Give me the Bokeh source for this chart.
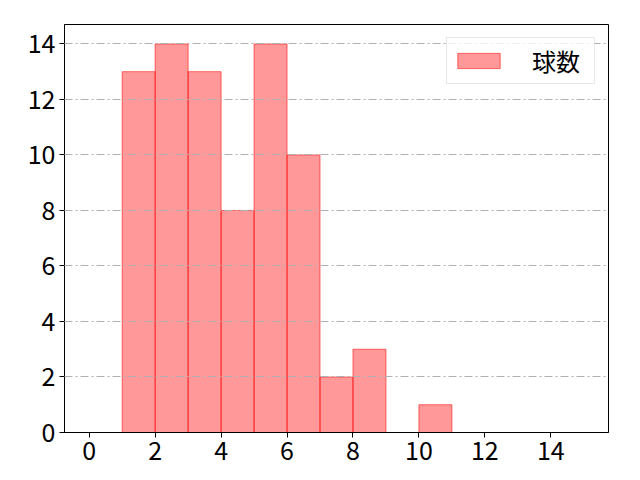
from bokeh.plotting import figure
from bokeh.embed import file_html
from bokeh.resources import INLINE
from bokeh.models import FixedTicker, Range1d, Legend, LegendItem, ColumnDataSource

bin_left = [0, 1, 2, 3, 4, 5, 6, 7, 8, 9, 10, 11, 12, 13, 14]
counts = [0, 13, 14, 13, 8, 14, 10, 2, 3, 0, 1, 0, 0, 0, 0]
bin_width = 1
series_name = "球数"
x_ticks = [0, 2, 4, 6, 8, 10, 12, 14]
y_ticks = [0, 2, 4, 6, 8, 10, 12, 14]

FONT = "Noto Sans CJK JP"

src = ColumnDataSource(dict(
    left=bin_left,
    right=[b + bin_width for b in bin_left],
    top=counts,
    bottom=[0] * len(counts),
))

p = figure(
    frame_width=544, frame_height=408,
    min_border_left=64, min_border_top=24, min_border_right=8, min_border_bottom=40,
    x_range=Range1d(-0.75, 15.75), y_range=Range1d(0, 14.7),
    output_backend="svg", toolbar_location=None,
)
p.background_fill_color = "white"
p.border_fill_color = "white"
p.outline_line_color = "black"
p.outline_line_width = 1

r = p.quad(left="left", right="right", top="top", bottom="bottom", source=src,
           fill_color="red", fill_alpha=0.4, line_color="red", line_alpha=0.55, line_width=1)

p.xgrid.visible = False
p.ygrid.grid_line_color = "#b0b0b0"
p.ygrid.grid_line_dash = "8 3 2 3"
p.ygrid.grid_line_width = 1
p.ygrid.level = "overlay"

for ax in (p.xaxis, p.yaxis):
    ax.axis_line_color = "black"
    ax.major_tick_line_color = "black"
    ax.minor_tick_line_color = None
    ax.major_tick_out = 5
    ax.major_tick_in = 0
    ax.major_label_text_font = FONT
    ax.major_label_text_font_size = "25px"
    ax.major_label_text_color = "black"
p.xaxis.ticker = FixedTicker(ticks=x_ticks)
p.yaxis.ticker = FixedTicker(ticks=y_ticks)
p.yaxis.major_label_standoff = 4
p.xaxis.major_label_standoff = 3

legend = Legend(items=[LegendItem(label=series_name, renderers=[r])],
                location="top_right")
legend.label_text_font = FONT
legend.label_text_font_size = "24px"
legend.label_text_color = "black"
legend.label_text_line_height = 1.0
legend.label_height = 24
legend.label_width = 57
legend.glyph_width = 53
legend.glyph_height = 19
legend.label_standoff = 27
legend.padding = 5
legend.spacing = 0
legend.margin = 13
legend.border_line_color = "#d0d0d0"
legend.border_line_width = 1
legend.background_fill_alpha = 0.8
p.add_layout(legend)

open("out.html", "w").write(file_html(p, INLINE))
